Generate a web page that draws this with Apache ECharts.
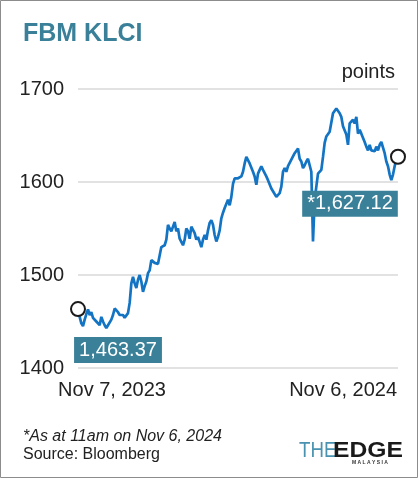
<!DOCTYPE html>
<html>
<head>
<meta charset="utf-8">
<script src="https://cdn.jsdelivr.net/npm/echarts@6/dist/echarts.min.js"></script>
<style>
html, body { margin: 0; padding: 0; background: #fff; }
#chart-klci-div { width: 418px; height: 478px; }
</style>
</head>
<body>
<div id="chart-klci-div"></div>
<script>
// FBM KLCI 收盘点位 (Nov 7, 2023 -> Nov 6, 2024)
var g_klci_values = [
	1463.37, 1455, 1448, 1445, 1452, 1458, 1463, 1457, 1460, 1454,
	1454, 1450, 1452, 1446, 1455, 1450, 1446, 1443, 1446, 1448,
	1452, 1457, 1464, 1465, 1460, 1457, 1455, 1457, 1454, 1455,
	1459, 1470, 1491, 1498, 1491, 1486, 1495, 1500, 1493, 1482,
	1488, 1493, 1502, 1505, 1516, 1514, 1513, 1513, 1512, 1511,
	1530, 1529, 1532, 1538, 1554, 1550, 1547, 1552, 1557, 1547,
	1550, 1539, 1538, 1532, 1538, 1550, 1547, 1539, 1552, 1553,
	1545, 1538, 1541, 1539, 1530, 1538, 1543, 1538, 1548, 1556,
	1559, 1554, 1543, 1536, 1541, 1548, 1561, 1567, 1572, 1570,
	1581, 1575, 1584, 1598, 1604, 1602, 1604, 1602, 1606, 1611,
	1620, 1627, 1629, 1620, 1618, 1611, 1606, 1597, 1609, 1613,
	1617, 1613, 1611, 1606, 1602, 1602, 1593, 1590, 1588, 1584,
	1584, 1588, 1595, 1611, 1615, 1611, 1617, 1618, 1624, 1622,
	1631, 1633, 1636, 1625, 1622, 1615, 1618, 1622, 1625, 1624,
	1611, 1536, 1581, 1595, 1609, 1611, 1613, 1627, 1642, 1649,
	1651, 1654, 1652, 1674, 1672, 1679, 1678, 1674, 1670, 1660,
	1661, 1651, 1640, 1663, 1665, 1667, 1663, 1670, 1652, 1656,
	1652, 1651, 1643, 1638, 1634, 1640, 1634, 1636, 1633, 1638,
	1634, 1640, 1643, 1642, 1631, 1622, 1617, 1608, 1602, 1608,
	1617, 1624, 1627.12
];
// X轴首尾标签
var g_klci_x_labels = ["Nov 7, 2023", "Nov 6, 2024"];
// 首尾数值标注
var g_klci_first_label = "1,463.37";
var g_klci_last_label = "*1,627.12";

var g_font = "'Liberation Sans', Arial, Helvetica, sans-serif";
var g_teal = "#3b8099";
var g_n = g_klci_values.length;

var g_chart_klci_option = {
	animation: false,
	backgroundColor: "#fff",
	grid: {
		left: 78,
		right: 20,
		top: 89,
		bottom: 110
	},
	xAxis: {
		type: "category",
		boundaryGap: false,
		data: g_klci_values.map((v, i) => i),
		axisLine: { show: false },
		axisTick: { show: false },
		axisLabel: { show: false },
		splitLine: { show: false }
	},
	yAxis: {
		type: "value",
		min: 1400,
		max: 1700,
		interval: 100,
		axisLine: { show: false },
		axisTick: { show: false },
		axisLabel: {
			margin: 14,
			fontSize: 20,
			color: "#222",
			fontFamily: g_font,
			formatter: v => String(v)
		},
		splitLine: {
			lineStyle: { color: "#d9d9d9", width: 1.5 }
		}
	},
	series: [{
		type: "line",
		data: g_klci_values,
		showSymbol: false,
		lineStyle: { color: "#1474c4", width: 2.7 },
		markPoint: {
			symbol: "circle",
			symbolSize: 14,
			itemStyle: {
				color: "#fff",
				borderColor: "#1a1a1a",
				borderWidth: 2
			},
			label: {
				show: true,
				color: "#fff",
				fontSize: 20,
				lineHeight: 20,
				fontFamily: g_font,
				backgroundColor: g_teal,
				padding: [3, 5, 3, 5]
			},
			data: [
				{
					coord: [0, g_klci_values[0]],
					label: { formatter: g_klci_first_label, offset: [40, 41] }
				},
				{
					coord: [g_n - 1, g_klci_values[g_n - 1]],
					label: { formatter: g_klci_last_label, offset: [-48, 47] }
				}
			]
		}
	}],
	graphic: [
		// 外框
		{
			type: "rect",
			shape: { x: 0.5, y: 0.5, width: 417, height: 477 },
			style: { fill: null, stroke: "#8c8c8c", lineWidth: 1 },
			silent: true
		},
		// 标题
		{
			type: "text", left: 23, top: 22,
			style: {
				text: "FBM KLCI", fill: g_teal,
				font: "bold 25px " + g_font
			}
		},
		{
			type: "text", x: 395, y: 72,
			style: {
				text: "points", fill: "#222", align: "right",
				verticalAlign: "middle", font: "20px " + g_font
			}
		},
		// X轴标签
		{
			type: "text", x: 112, y: 390,
			style: {
				text: g_klci_x_labels[0], fill: "#222", align: "center",
				verticalAlign: "middle", font: "20px " + g_font
			}
		},
		{
			type: "text", x: 397, y: 390,
			style: {
				text: g_klci_x_labels[1], fill: "#222", align: "right",
				verticalAlign: "middle", font: "20px " + g_font
			}
		},
		// 脚注
		{
			type: "text", x: 23, y: 437,
			style: {
				text: "*As at 11am on Nov 6, 2024", fill: "#222",
				verticalAlign: "middle", font: "italic 16px " + g_font
			}
		},
		{
			type: "text", x: 23, y: 455,
			style: {
				text: "Source: Bloomberg", fill: "#222",
				verticalAlign: "middle", font: "16px " + g_font
			}
		},
		// 标志
		{
			type: "text", x: 299, y: 451, scaleX: 0.85,
			style: {
				text: "THE", fill: "#4a93b0",
				verticalAlign: "middle", font: "22px " + g_font
			}
		},
		{
			type: "text", x: 333, y: 451, scaleX: 1.12,
			style: {
				text: "EDGE", fill: "#1a1a1a",
				verticalAlign: "middle", font: "900 22px " + g_font
			}
		},
		{
			type: "text", x: 352, y: 463,
			style: {
				text: "M A L A Y S I A", fill: "#333",
				verticalAlign: "middle", font: "bold 5px " + g_font
			}
		}
	]
};

var g_chart_klci = echarts.init(document.getElementById("chart-klci-div"));
g_chart_klci.setOption(g_chart_klci_option);
window.addEventListener("resize", g_chart_klci.resize);
</script>
</body>
</html>
